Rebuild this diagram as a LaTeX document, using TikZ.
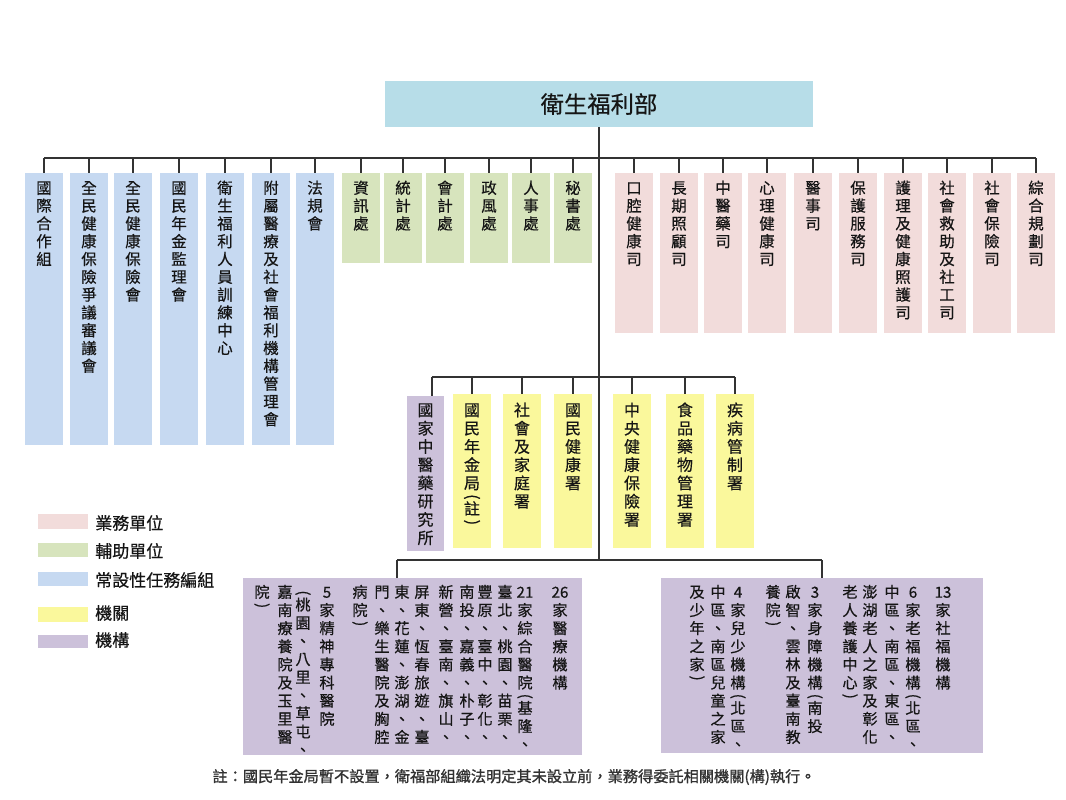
\documentclass[tikz,border=0pt]{standalone}
\usepackage{fontspec}
\usepackage{graphicx}
\setmainfont[FakeBold=0.45]{Noto Sans CJK TC}
\newfontfamily\notefont[FakeBold=1.1]{Noto Sans CJK TC}
\usetikzlibrary{fit,calc}
\definecolor{topc}{HTML}{B7DDE8}
\definecolor{bluec}{HTML}{C6D9F1}
\definecolor{greenc}{HTML}{D7E4BD}
\definecolor{pinkc}{HTML}{F2DCDB}
\definecolor{yellowc}{HTML}{FAF89C}
\definecolor{purplec}{HTML}{CCC1DA}
\definecolor{linec}{HTML}{333333}
\definecolor{txtc}{HTML}{151515}
\newlength\vtpitch
\makeatletter
\let\vtHalf\relax
\def\vt@halfmark{\vtHalf}
\newcommand\vtL{\rotatebox[origin=c]{-90}{(}}
\newcommand\vtR{\rotatebox[origin=c]{-90}{)}}
\newcommand\vt[1]{\vtop{\baselineskip=\vtpitch\lineskiplimit=-\maxdimen\lineskip=0pt%
  \@tfor\vt@c:=#1\do{\ifx\vt@c\vt@halfmark\vskip-0.3\vtpitch\else\hbox to 1.3em{\hss\vt@c\hss}\fi}}}
\newcommand\vtx[1]{\expandafter\vt\expandafter{#1}}
\makeatother
\tikzset{
  box/.style={inner sep=0pt, draw=none},
  conn/.style={draw=linec, line width=1pt},
  toplbl/.style={inner sep=0pt, anchor=base, text=txtc, font=\fontsize{11.6pt}{13pt}\selectfont\setlength\vtpitch{13.35pt}},
  midlbl/.style={inner sep=0pt, anchor=base, text=txtc, font=\fontsize{12pt}{14pt}\selectfont\setlength\vtpitch{13.7pt}},
  botlbl/.style={inner sep=0pt, anchor=base, text=txtc, font=\fontsize{11.4pt}{13pt}\selectfont\setlength\vtpitch{13.6pt}},
  legtxt/.style={inner sep=0pt, anchor=west, text=txtc, font=\fontsize{12.75pt}{15pt}\selectfont},
}
\begin{document}
\begin{tikzpicture}[x=0.75pt, y=-0.75pt]
\useasboundingbox (0,0) rectangle (1066,799);
\fill[white] (0,0) rectangle (1066,799);
% top
\node[box, fill=topc, fit={(385,81)(813,127)}] (top) {};
\node[inner sep=0pt, text=txtc, font=\fontsize{17.5pt}{20pt}\selectfont] (toptxt) at (top.center) {衛生福利部};
\coordinate (bus1) at (600,158);
\coordinate (bus2) at (600,377);
\coordinate (bus3) at (600,560);
% blue row
\foreach \x/\txt [count=\i] in {25/國際合作組,70/全民健康保險爭議審議會,114/全民健康保險會,160/國民年金監理會,206/衛生福利人員訓練中心,252/附屬醫療及社會福利機構管理會,296/法規會}{
  \node[box, fill=bluec, fit={(\x,173)(\x+38,445)}] (b\i) {};
  \node[toplbl] (bt\i) at (b\i.north |- 0,193.7) {\vtx{\txt}};
}
% green row
\foreach \x/\txt [count=\i] in {342/資訊處,384/統計處,426/會計處,470/政風處,512/人事處,554/秘書處}{
  \node[box, fill=greenc, fit={(\x,173)(\x+38,263)}] (g\i) {};
  \node[toplbl] (gt\i) at (g\i.north |- 0,193.7) {\vtx{\txt}};
}
% pink row
\foreach \x/\txt [count=\i] in {615/口腔健康司,660/長期照顧司,704/中醫藥司,748/心理健康司,794/醫事司,839/保護服務司,884/護理及健康照護司,928/社會救助及社工司,973/社會保險司,1017/綜合規劃司}{
  \node[box, fill=pinkc, fit={(\x,173)(\x+38,333)}] (p\i) {};
  \node[toplbl] (pt\i) at (p\i.north |- 0,193.7) {\vtx{\txt}};
}
% middle row
\node[box, fill=purplec, fit={(407,396)(444,551)}] (m1) {};
\node[midlbl] (mt1) at (m1.north |- 0,416) {\vt{國家中醫藥研究所}};
\foreach \x/\txt [count=\i from 2] in {453/國民年金局\vtHalf\vtL\vtHalf 註\vtHalf\vtR,503/社會及家庭署,554/國民健康署,613/中央健康保險署,666/食品藥物管理署,716/疾病管制署}{
  \node[box, fill=yellowc, fit={(\x,394)(\x+38,548)}] (m\i) {};
  \node[midlbl] (mt\i) at (m\i.north |- 0,416) {\vtx{\txt}};
}
% bottom boxes
\node[box, fill=purplec, fit={(243,578)(582,755)}] (L) {};
\node[box, fill=purplec, fit={(661,578)(983,753)}] (R) {};
\foreach \x/\txt [count=\i] in {262/院\vtHalf\vtR,285/嘉南療養院及玉里醫,303/\vtL\vtHalf 桃園、八里、草屯、,327/5家精神專科醫院,360/病院\vtHalf\vtR,382/門、樂生醫院及胸腔,402/東、花蓮、澎湖、金,422/屏東、恆春旅遊、臺,446/新營、臺南、旗山、,467/南投、嘉義、朴子、,485/豐原、臺中、彰化、,505/臺北、桃園、苗栗、,525/{21}家綜合醫院\vtHalf\vtL\vtHalf 基隆、,560/{26}家醫療機構}{
  \node[botlbl] (Lc\i) at (\x,597.7) {\vtx{\txt}};
}
\foreach \x/\txt [count=\i] in {697/及少年之家\vtHalf\vtR,718/中區、南區兒童之家,738/4家兒少機構\vtHalf\vtL\vtHalf 北區、,773/養院\vtHalf\vtR,793/啟智、雲林及臺南教,815/3家身障機構\vtHalf\vtL\vtHalf 南投,850/老人養護中心\vtHalf\vtR,870/澎湖老人之家及彰化,892/中區、南區、東區、,913/6家老福機構\vtHalf\vtL\vtHalf 北區、,943/{13}家社福機構}{
  \node[botlbl] (Rc\i) at (\x,597.7) {\vtx{\txt}};
}
% connectors
\draw[conn] (top.south) -- (top.south |- bus3);
\draw[conn] (b1.north |- bus1) -- (p10.north |- bus1);
\foreach \i in {1,...,7} \draw[conn] (b\i.north |- bus1) -- (b\i.north);
\foreach \i in {1,...,6} \draw[conn] (g\i.north |- bus1) -- (g\i.north);
\foreach \i in {1,...,10} \draw[conn] (p\i.north |- bus1) -- (p\i.north);
\coordinate (m1top) at ([xshift=4.8pt]m1.north);
\draw[conn] (m1top |- bus2) -- (m7.north |- bus2);
\draw[conn] (m1top |- bus2) -- (m1top);
\foreach \i in {2,...,7} \draw[conn] (m\i.north |- bus2) -- (m\i.north);
\coordinate (Ltop) at ([xshift=-11.6pt]L.north);
\draw[conn] (Ltop |- bus3) -- (R.north |- bus3);
\draw[conn] (Ltop |- bus3) -- (Ltop);
\draw[conn] (R.north |- bus3) -- (R.north);
% legend
\node[box, fill=pinkc, fit={(38,514)(88,529)}] (lg1) {};
\node[box, fill=greenc, fit={(38,543)(88,557)}] (lg2) {};
\node[box, fill=bluec, fit={(38,572)(88,586)}] (lg3) {};
\node[box, fill=yellowc, fit={(38,607)(88,622)}] (lg4) {};
\node[box, fill=purplec, fit={(38,635)(88,648)}] (lg5) {};
\node[legtxt] (lt1) at (95,523) {業務單位};
\node[legtxt] (lt2) at (95,551) {輔助單位};
\node[legtxt] (lt3) at (95,580) {常設性任務編組};
\node[legtxt] (lt4) at (95,613) {機關};
\node[legtxt] (lt5) at (95,640) {機構};
% footnote
\node[inner sep=0pt, text={rgb,255:red,50;green,50;blue,50}, font=\notefont\fontsize{11.4pt}{13pt}\selectfont] (note) at (514,777) {註：國民年金局暫不設置，衛福部組織法明定其未設立前，業務得委託相關機關(構)執行。};
\end{tikzpicture}
\end{document}
